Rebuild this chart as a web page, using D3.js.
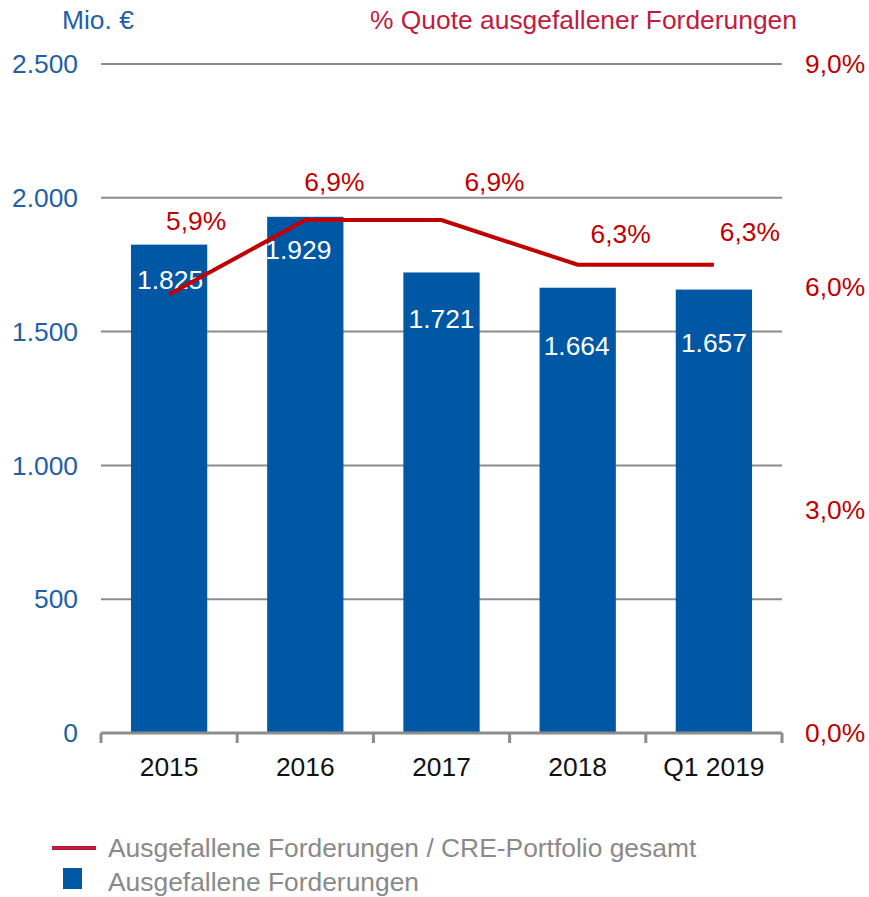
<!DOCTYPE html>
<meta charset="utf-8">
<style>
    body { margin: 0; background: #fff; }
    text { font-family: "Liberation Sans", Arial, sans-serif; font-size: 26.4px; }
</style>
<script src="https://cdn.jsdelivr.net/npm/d3@7"></script>
<svg width="869" height="897"></svg>
<script>
    // data
    var categories = ["2015", "2016", "2017", "2018", "Q1 2019"];
    var volume = [1825, 1929, 1721, 1664, 1657];          // Mio. €
    var quote = [5.9, 6.9, 6.9, 6.3, 6.3];                 // %
    var leftTicks = [0, 500, 1000, 1500, 2000, 2500];
    var rightTicks = [0, 3, 6, 9];

    var blue = "#0057a4", red = "#c00000", crimson = "#c21a3f", grey = "#8c8c8c";

    var svg = d3.select("svg");
    var x0 = 101, x1 = 782, yTop = 64, yBot = 733;

    var x = d3.scaleBand().domain(categories).range([x0, x1]).paddingInner(0.44).paddingOuter(0.22);
    var y = d3.scaleLinear().domain([0, 2500]).range([yBot, yTop]);
    var y2 = d3.scaleLinear().domain([0, 9]).range([yBot, yTop]);
    var xc = function (d) { return x(d) + x.bandwidth() / 2; };

    var fmtDE = d3.formatLocale({decimal: ",", thousands: ".", grouping: [3], currency: ["", "€"]});
    var fInt = fmtDE.format(",.0f"), fPct = fmtDE.format(".1f");

    // gridlines
    svg.append("g").selectAll("line")
        .data(leftTicks.filter(function (d) { return d > 0; }))
        .enter().append("line")
        .attr("x1", x0).attr("x2", x1)
        .attr("y1", function (d) { return y(d); }).attr("y2", function (d) { return y(d); })
        .attr("stroke", grey).attr("stroke-width", 2);

    // left ticks
    svg.append("g").selectAll("text")
        .data(leftTicks).enter().append("text")
        .attr("x", 78).attr("y", function (d) { return y(d); })
        .attr("dy", "0.35em").attr("text-anchor", "end")
        .attr("fill", "#1f5fa8")
        .text(function (d) { return fInt(d); });

    // right ticks
    svg.append("g").selectAll("text")
        .data(rightTicks).enter().append("text")
        .attr("x", 805).attr("y", function (d) { return y2(d); })
        .attr("dy", "0.35em").attr("fill", red)
        .text(function (d) { return fPct(d) + "%"; });

    // titles
    svg.append("text").attr("x", 62).attr("y", 20).attr("dy", "0.35em")
        .attr("fill", "#1f5fa8").text("Mio. €");
    svg.append("text").attr("x", 370).attr("y", 20).attr("dy", "0.35em")
        .attr("fill", crimson).text("% Quote ausgefallener Forderungen");

    // bars
    svg.append("g").selectAll("rect")
        .data(volume).enter().append("rect")
        .attr("x", function (d, i) { return x(categories[i]); })
        .attr("width", x.bandwidth())
        .attr("y", function (d) { return y(d); })
        .attr("height", function (d) { return yBot - y(d); })
        .attr("fill", blue);

    // x axis
    var axis = svg.append("g").attr("transform", "translate(0," + yBot + ")");
    axis.append("line").attr("x1", x0).attr("x2", x1)
        .attr("stroke", grey).attr("stroke-width", 3);
    axis.selectAll(".tk").data(d3.range(categories.length + 1)).enter().append("line")
        .attr("x1", function (i) { return x0 + i * (x1 - x0) / categories.length; })
        .attr("x2", function (i) { return x0 + i * (x1 - x0) / categories.length; })
        .attr("y1", 0).attr("y2", 10)
        .attr("stroke", grey).attr("stroke-width", 3);
    axis.selectAll("text").data(categories).enter().append("text")
        .attr("x", xc).attr("y", 34).attr("dy", "0.35em")
        .attr("text-anchor", "middle").attr("fill", "#111")
        .text(function (d) { return d; });

    // bar value labels
    var barDx = [1, -7, 0, -1, 0], barDy = [35, 33, 46, 58, 53];
    svg.append("g").selectAll("text")
        .data(volume).enter().append("text")
        .attr("x", function (d, i) { return xc(categories[i]) + barDx[i]; })
        .attr("y", function (d, i) { return y(d) + barDy[i]; })
        .attr("dy", "0.35em").attr("text-anchor", "middle").attr("fill", "#fff")
        .text(function (d) { return fInt(d); });

    // line
    var line = d3.line()
        .x(function (d, i) { return xc(categories[i]); })
        .y(function (d) { return y2(d); });
    svg.append("path").datum(quote)
        .attr("d", line).attr("fill", "none")
        .attr("stroke", red).attr("stroke-width", 4);

    // percentage labels
    var pDx = [27, 29, 53, 43, 36], pDy = [-74, -38, -38, -31, -33];
    svg.append("g").selectAll("text")
        .data(quote).enter().append("text")
        .attr("x", function (d, i) { return xc(categories[i]) + pDx[i]; })
        .attr("y", function (d, i) { return y2(d) + pDy[i]; })
        .attr("dy", "0.35em").attr("text-anchor", "middle").attr("fill", red)
        .text(function (d) { return fPct(d) + "%"; });

    // legend
    var lg = svg.append("g");
    lg.append("line").attr("x1", 52).attr("x2", 96).attr("y1", 848).attr("y2", 848)
        .attr("stroke", crimson).attr("stroke-width", 4);
    lg.append("text").attr("x", 108).attr("y", 848).attr("dy", "0.35em")
        .attr("fill", "#8a8a8a").text("Ausgefallene Forderungen / CRE-Portfolio gesamt");
    lg.append("rect").attr("x", 63).attr("y", 868).attr("width", 19).attr("height", 21)
        .attr("fill", blue);
    lg.append("text").attr("x", 108).attr("y", 882).attr("dy", "0.35em")
        .attr("fill", "#8a8a8a").text("Ausgefallene Forderungen");
</script>
